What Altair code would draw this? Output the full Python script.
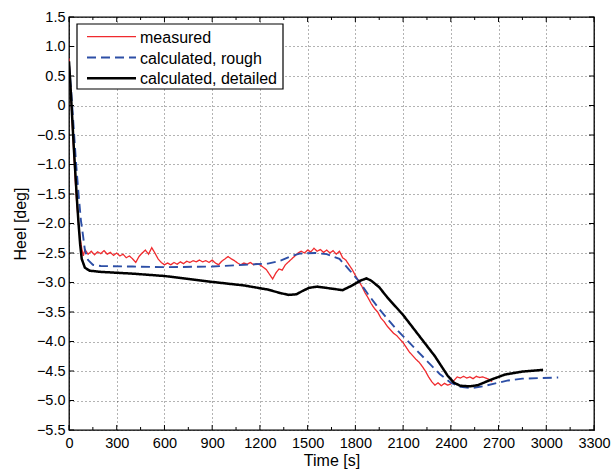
import altair as alt
import pandas as pd

# ---------------- data ----------------
series_names = ["measured", "calculated, rough", "calculated, detailed"]

meas_t = [0, 10, 20, 30, 40, 50, 60, 70, 80, 90, 100,
          120, 140, 160, 180, 200, 220, 240, 260, 280, 300, 320, 340, 360, 380, 400,
          420, 440, 460, 480, 500, 520, 540, 560, 580, 600, 620, 640, 660, 680, 700,
          720, 740, 760, 780, 800, 820, 840, 860, 880, 900, 920, 940, 960, 980, 1000,
          1020, 1040, 1060, 1080, 1100, 1120, 1140, 1160, 1180, 1200, 1220, 1240, 1260, 1280, 1300,
          1320, 1340, 1360, 1380, 1400, 1420, 1440, 1460, 1480, 1500, 1520, 1540, 1560, 1580, 1600,
          1620, 1640, 1660, 1680, 1700, 1720, 1740, 1760, 1780, 1800, 1820, 1840, 1860, 1880, 1900,
          1920, 1940, 1960, 1980, 2000, 2020, 2040, 2060, 2080, 2100, 2120, 2140, 2160, 2180, 2200,
          2220, 2240, 2260, 2280, 2300, 2320, 2340, 2360, 2380, 2400, 2420, 2440, 2460, 2480, 2500,
          2520, 2540, 2560, 2580, 2600, 2620, 2640, 2660]
meas_v = [0.8, 0.3, -0.3, -0.8, -1.3, -1.7, -2.0, -2.25, -2.42, -2.55, -2.44,
          -2.52, -2.47, -2.53, -2.48, -2.51, -2.46, -2.52, -2.49, -2.54, -2.5, -2.55, -2.52, -2.58, -2.55, -2.6,
          -2.66, -2.56, -2.5, -2.45, -2.52, -2.41, -2.5, -2.6, -2.66, -2.7, -2.67, -2.7, -2.66, -2.69, -2.65,
          -2.68, -2.64, -2.66, -2.63, -2.65, -2.62, -2.65, -2.63, -2.66, -2.62, -2.67, -2.7, -2.64, -2.6, -2.56,
          -2.6, -2.63, -2.67, -2.7, -2.67, -2.69, -2.66, -2.7, -2.68, -2.7, -2.74, -2.78, -2.86, -2.94, -2.84,
          -2.77, -2.79, -2.7, -2.65, -2.6, -2.55, -2.5, -2.47, -2.5, -2.45, -2.48, -2.42, -2.47, -2.44, -2.49,
          -2.45, -2.5, -2.46, -2.52, -2.47, -2.58, -2.62, -2.7, -2.78, -2.88, -2.97, -3.06, -3.17, -3.26, -3.36,
          -3.44, -3.5, -3.6, -3.66, -3.74, -3.8, -3.86, -3.9, -3.96, -4.02, -4.1, -4.18, -4.24, -4.3, -4.35,
          -4.42, -4.5, -4.6, -4.68, -4.74, -4.7, -4.75, -4.71, -4.74, -4.72, -4.66, -4.6, -4.62, -4.59, -4.62,
          -4.6, -4.63, -4.59, -4.61, -4.6, -4.62, -4.64, -4.68]

rough_t = [0, 15, 30, 45, 60, 75, 88, 100, 120, 150, 200, 400, 600, 900, 1100, 1250, 1330, 1400,
           1450, 1550, 1620, 1700, 1760, 1820, 1880, 1950, 2050, 2150, 2250, 2330, 2400, 2460,
           2530, 2600, 2680, 2760, 2850, 2950, 3075]
rough_v = [0.7, 0.2, -0.4, -1.0, -1.5, -1.95, -2.2, -2.45, -2.62, -2.7, -2.72, -2.73, -2.74, -2.73,
           -2.7, -2.68, -2.63, -2.55, -2.51, -2.5, -2.52, -2.6, -2.78, -2.97, -3.2, -3.45, -3.77,
           -4.05, -4.33, -4.55, -4.7, -4.77, -4.79, -4.76, -4.71, -4.66, -4.63, -4.62, -4.61]

det_t = [0, 10, 20, 30, 40, 50, 60, 70, 80, 100, 130, 200, 400, 600, 900, 1100, 1250, 1330, 1380,
         1430, 1470, 1510, 1560, 1640, 1720, 1780, 1830, 1870, 1900, 1950, 2000, 2100, 2200, 2300,
         2380, 2420, 2460, 2520, 2570, 2650, 2740, 2850, 2980]
det_v = [0.75, 0.3, -0.2, -0.7, -1.15, -1.6, -2.0, -2.35, -2.6, -2.75, -2.8, -2.82, -2.85, -2.89,
         -2.99, -3.05, -3.12, -3.18, -3.21, -3.2, -3.14, -3.09, -3.07, -3.1, -3.13, -3.05, -2.97,
         -2.93, -2.97, -3.08, -3.25, -3.55, -3.9, -4.25, -4.58, -4.7, -4.75, -4.76, -4.74, -4.65,
         -4.56, -4.51, -4.48]

x_ticks = [0, 300, 600, 900, 1200, 1500, 1800, 2100, 2400, 2700, 3000, 3300]
x_minor = [150, 450, 750, 1050, 1350, 1650, 1950, 2250, 2550, 2850, 3150]
y_ticks = [1.5, 1.0, 0.5, 0.0, -0.5, -1.0, -1.5, -2.0, -2.5, -3.0, -3.5, -4.0, -4.5, -5.0, -5.5]

colors = ["#f02a2e", "#2d4fa6", "#000000"]
dashes = [[1, 0], [9, 5], [1, 0]]
widths = [1.3, 2.5, 1.6]

# ---------------- build ----------------
rows = []
for t, v in zip(meas_t, meas_v):
    rows.append({"t": t, "v": v, "series": series_names[0]})
for t, v in zip(rough_t, rough_v):
    rows.append({"t": t, "v": v, "series": series_names[1]})
for t, v in zip(det_t, det_v):
    rows.append({"t": t, "v": v, "series": series_names[2]})
df = pd.DataFrame(rows)

W, H = 525, 413
FONT = "Liberation Sans"
TICK_FS = 14.5
TITLE_FS = 16
LEG_FS = 16

xs = alt.Scale(domain=[0, 3300], nice=False, zero=False)
ys = alt.Scale(domain=[-5.5, 1.5], nice=False, zero=False)

x_axis = alt.Axis(values=x_ticks, grid=True, ticks=False, labelPadding=6, format="d",
                  gridDash=[1, 3], gridColor="#000", gridOpacity=0.6,
                  labelFont=FONT, labelFontSize=TICK_FS, titleFont=FONT,
                  titleFontSize=TITLE_FS, titleFontWeight="normal", titlePadding=3,
                  domain=False, labelColor="#000", titleColor="#000", labelFlush=False)
y_axis = alt.Axis(values=y_ticks, grid=True, ticks=False, labelPadding=4,
                  labelExpr="datum.value == 0 ? '0' : format(datum.value, '.1f')",
                  gridDash=[1, 3], gridColor="#000", gridOpacity=0.6,
                  labelFont=FONT, labelFontSize=TICK_FS, titleFont=FONT,
                  titleFontSize=TITLE_FS, titleFontWeight="normal", titlePadding=8,
                  domain=False, labelColor="#000", titleColor="#000", labelFlush=False)

color_enc = alt.Color("series:N", scale=alt.Scale(domain=series_names, range=colors), legend=None)
dash_enc = alt.StrokeDash("series:N", scale=alt.Scale(domain=series_names, range=dashes), legend=None)
width_enc = alt.StrokeWidth("series:N", scale=alt.Scale(domain=series_names, range=widths), legend=None)

lines = alt.Chart(df).mark_line(clip=True).encode(
    x=alt.X("t:Q", scale=xs, title="Time [s]", axis=x_axis),
    y=alt.Y("v:Q", scale=ys, title="Heel [deg]", axis=y_axis),
    color=color_enc, strokeDash=dash_enc, strokeWidth=width_enc,
    order="t:Q",
)

xt = pd.DataFrame({"t": x_ticks})
xm = pd.DataFrame({"t": x_minor})
yt = pd.DataFrame({"v": y_ticks})

def xrule(data, y0, y1):
    return alt.Chart(data).mark_rule(color="#000", strokeWidth=1).encode(
        x=alt.X("t:Q", scale=xs, title="Time [s]", axis=x_axis), y=alt.value(y0), y2=alt.value(y1))

def yrule(data, x0, x1):
    return alt.Chart(data).mark_rule(color="#000", strokeWidth=1).encode(
        y=alt.Y("v:Q", scale=ys, title="Heel [deg]", axis=y_axis), x=alt.value(x0), x2=alt.value(x1))

ticks = [
    xrule(xt, H, H - 5), xrule(xt, 0, 5),
    xrule(xm, H, H - 3), xrule(xm, 0, 3),
    yrule(yt, 0, 5), yrule(yt, W, W - 5),
]

# ---------------- manual legend (box, sample lines, labels) ----------------
LX0, LX1, LY0, LY1 = 8, 214, 7, 72
SX0, SX1, TX = 18, 67, 71
ROW_Y = [19.7, 40.5, 61.3]

legend_layers = [
    alt.Chart(pd.DataFrame({"a": [0]})).mark_rect(fill="#fff", stroke="#000", strokeWidth=1.2).encode(
        x=alt.value(LX0), x2=alt.value(LX1), y=alt.value(LY0), y2=alt.value(LY1))
]
for k, name in enumerate(series_names):
    d = pd.DataFrame({"series": [name]})
    legend_layers.append(
        alt.Chart(d).mark_rule().encode(
            x=alt.value(SX0), x2=alt.value(SX1), y=alt.value(ROW_Y[k]),
            color=color_enc, strokeDash=dash_enc, strokeWidth=width_enc))
    legend_layers.append(
        alt.Chart(d).mark_text(align="left", baseline="middle", font=FONT, fontSize=LEG_FS,
                               color="#000", dy=1).encode(
            x=alt.value(TX), y=alt.value(ROW_Y[k]), text="series:N"))

chart = alt.layer(lines, *ticks, *legend_layers).properties(
    width=W, height=H,
    autosize=alt.AutoSizeParams(type="none"),
    padding={"left": 69, "top": 17, "right": 19, "bottom": 42},
).configure(background="#fff").configure_view(stroke="#000", strokeWidth=1.3)

chart.save("out.html", embed_options={"renderer": "svg", "actions": False})
